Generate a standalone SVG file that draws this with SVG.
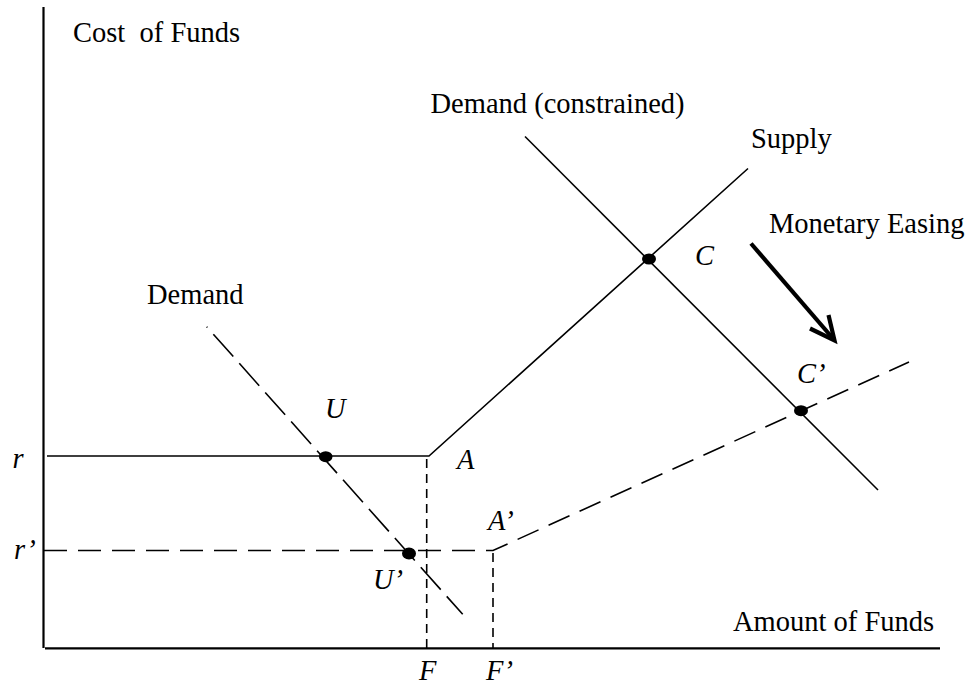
<svg xmlns="http://www.w3.org/2000/svg" width="971" height="685" viewBox="0 0 971 685">
<style>
text{font-family:"Liberation Serif","Times New Roman",serif;font-size:28.5px;fill:#000}
.it{font-style:italic}
.ax{stroke:#000;stroke-width:2.2;fill:none}
.sol{stroke:#000;stroke-width:1.6;fill:none}
.dsh{stroke:#000;stroke-width:1.6;fill:none;stroke-dasharray:23 11}
.vd{stroke:#000;stroke-width:1.6;fill:none;stroke-dasharray:9 6}
.dot{fill:#000}
</style>
<rect width="971" height="685" fill="#fff"/>
<g id="axes">
<line class="ax" x1="43.5" y1="7" x2="43.5" y2="648"/>
<line class="ax" x1="45" y1="648.3" x2="940" y2="648.3"/>
<text x="73" y="41.5" xml:space="preserve">Cost  of Funds</text>
<text x="733" y="631">Amount of Funds</text>
</g>
<g id="connectors">
<polyline class="sol" points="47,456 429,456 748,168.5"/>
<line class="sol" x1="525" y1="136.5" x2="878" y2="490"/>
<line class="dsh" x1="206.7" y1="326.7" x2="462.7" y2="614.3" style="stroke-dasharray:30 9;stroke-dashoffset:29"/>
<polyline class="dsh" points="44,550.5 493,550.5 909,362"/>
<line class="vd" x1="426.7" y1="459" x2="426.7" y2="648"/>
<line class="vd" x1="493" y1="553" x2="493" y2="648"/>
<g id="easing-arrow">
<line x1="751" y1="243.5" x2="833" y2="338.5" stroke="#000" stroke-width="4.2"/>
<polyline points="810,328.5 834.5,340.5 828.5,315" stroke="#000" stroke-width="4.2" fill="none" stroke-linejoin="miter"/>
</g>
</g>
<g id="label-demand-constrained"><text x="430.5" y="113">Demand (constrained)</text></g>
<g id="label-supply"><text x="751" y="148">Supply</text></g>
<g id="label-monetary-easing"><text x="769" y="233">Monetary Easing</text></g>
<g id="label-demand"><text x="147" y="304">Demand</text></g>
<g id="point-U"><ellipse class="dot" cx="325.7" cy="456.7" rx="6.8" ry="5.5"/><text class="it" x="325" y="418">U</text></g>
<g id="point-U-prime"><ellipse class="dot" cx="409" cy="553.5" rx="7" ry="6"/><text class="it" x="373" y="589">U’</text></g>
<g id="point-A"><text class="it" x="457" y="469">A</text></g>
<g id="point-A-prime"><text class="it" x="488" y="530">A’</text></g>
<g id="point-C"><ellipse class="dot" cx="649" cy="259" rx="7" ry="5.5"/><text class="it" x="695" y="265">C</text></g>
<g id="point-C-prime"><ellipse class="dot" cx="801" cy="410.7" rx="7" ry="5.5"/><text class="it" x="797" y="383">C’</text></g>
<g id="label-r"><text class="it" x="12.5" y="468">r</text></g>
<g id="label-r-prime"><text class="it" x="14" y="559">r’</text></g>
<g id="label-F"><text class="it" x="419" y="680">F</text></g>
<g id="label-F-prime"><text class="it" x="486" y="680">F’</text></g>
</svg>
